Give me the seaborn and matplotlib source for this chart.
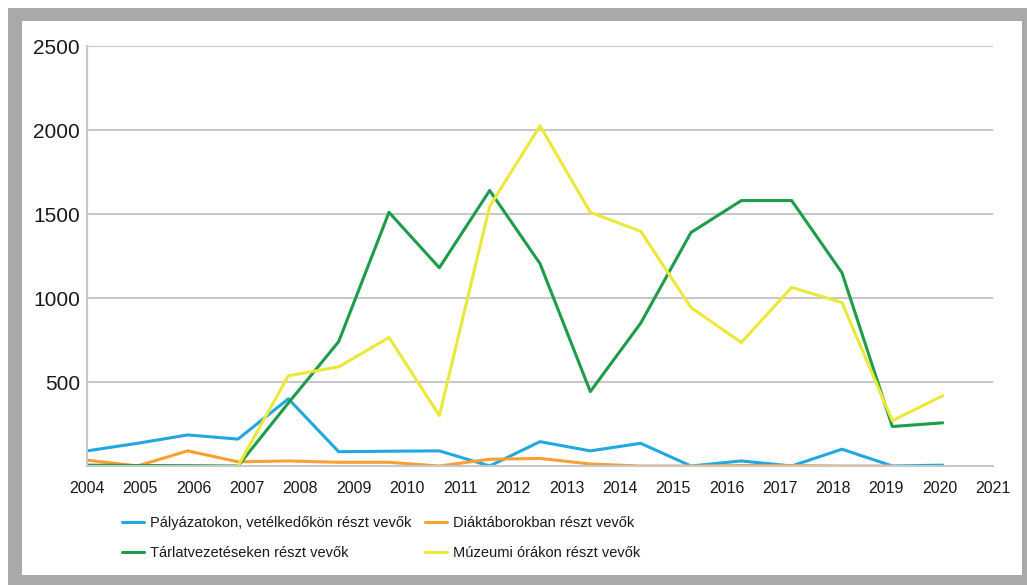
import numpy as np
import pandas as pd
import seaborn as sns
import matplotlib.pyplot as plt
from matplotlib.patches import Rectangle
from matplotlib.lines import Line2D

years = [str(y) for y in range(2004, 2022)]
nan = np.nan
palyazat = [90, 135, 185, 160, 400, 85, 88, 90, 0, 145, 90, 135, 0, 30, 0, 100, 0, 5]
diaktabor = [35, 0, 90, 25, 30, 22, 22, 0, 40, 45, 12, 0, 0, 3, 3, 0, 0, nan]
tarlat = [5, 3, 2, 0, 375, 740, 1510, 1180, 1640, 1205, 443, 850, 1390, 1580, 1580, 1150, 235, 257]
muzeum = [nan, nan, nan, 0, 537, 590, 765, 300, 1545, 2025, 1510, 1397, 943, 735, 1063, 973, 270, 418]

names = ["Pályázatokon, vetélkedőkön részt vevők", "Diáktáborokban részt vevők",
         "Tárlatvezetéseken részt vevők", "Múzeumi órákon részt vevők"]
colors = ["#22a7e0", "#f8a034", "#1d9c4a", "#ece83a"]

rows = []
for name, vals in zip(names, [palyazat, diaktabor, tarlat, muzeum]):
    for i, v in enumerate(vals):
        rows.append({"idx": i, "value": v, "series": name})
df = pd.DataFrame(rows).dropna()

sns.set_style("white")
plt.rcParams['font.family'] = ['Liberation Sans', 'DejaVu Sans']

fig = plt.figure(figsize=(10.27, 5.85), dpi=100)
fig.patch.set_facecolor("white")
# grey frame around the chart
fig.patches.append(Rectangle((8 / 1027, 0), 1, 1 - 8 / 585, transform=fig.transFigure,
                             facecolor="#a9a9a9", edgecolor="none", zorder=-10))
fig.patches.append(Rectangle((22 / 1027, 10 / 585), 1000 / 1027, 554 / 585, transform=fig.transFigure,
                             facecolor="white", edgecolor="none", zorder=-9))

ax = fig.add_axes([87 / 1027, 119 / 585, 906 / 1027, 420 / 585])
ax.set_facecolor("none")
sns.lineplot(data=df, x="idx", y="value", hue="series", hue_order=names,
             palette=colors, linewidth=2.2, legend=False, ax=ax)

ax.set_xlim(0, 18)
ax.set_ylim(0, 2500)
ax.set_yticks([500, 1000, 1500, 2000, 2500])
ax.set_yticklabels(["500", "1000", "1500", "2000", "2500"], fontsize=15, color="#1a1a1a")
ax.set_xticks(np.arange(len(years)) * 18 / 17)
ax.set_xticklabels(years, fontsize=11.5, color="#1a1a1a")
ax.tick_params(axis="y", length=0, pad=5)
ax.tick_params(axis="x", length=0, pad=11)
ax.set_xlabel("")
ax.set_ylabel("")
ax.yaxis.grid(True, color="#c8c8c8", linewidth=1.5)
ax.set_axisbelow(True)
for s in ["top", "right"]:
    ax.spines[s].set_visible(False)
for s in ["left", "bottom"]:
    ax.spines[s].set_color("#c8c8c8")
    ax.spines[s].set_linewidth(1.5)

order = [0, 2, 1, 3]
handles = [Line2D([], [], color=colors[i], linewidth=2.2) for i in order]
labels = [names[i] for i in order]
leg = fig.legend(handles, labels, loc="upper left", bbox_to_anchor=(122 / 1027, 1 - 516 / 585),
                 ncol=2, frameon=False, borderpad=0, borderaxespad=0, fontsize=10.5,
                 handlelength=1.5, handletextpad=0.45, columnspacing=0.9, labelspacing=1.1)
for t in leg.get_texts():
    t.set_color("#1a1a1a")

fig.savefig("out.png", dpi=100)
